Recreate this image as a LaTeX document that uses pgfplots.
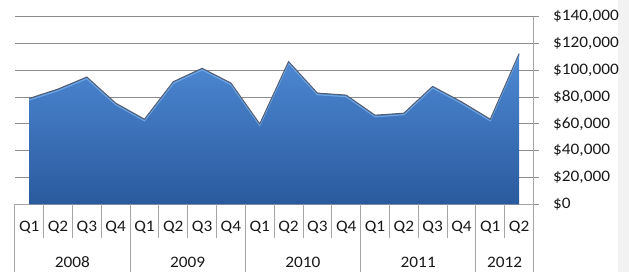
\documentclass[border=0pt]{standalone}
\usepackage{pgfplots}
\usepackage{pgfplotstable}
\pgfplotsset{compat=1.18}
\usepackage{fontspec}
\setmainfont{Carlito}[FakeStretch=1.08]
\definecolor{areatop}{RGB}{78,138,212}
\definecolor{areabot}{RGB}{42,90,158}
\definecolor{areaedge}{RGB}{85,95,115}
\definecolor{areahi}{RGB}{120,175,235}
\definecolor{gridc}{RGB}{140,140,140}
\definecolor{catc}{RGB}{165,165,165}
\definecolor{txt}{RGB}{25,25,25}
\pgfplotstableread{
x y
0 79000
1 86000
2 95000
3 75500
4 63500
5 91500
6 101500
7 90500
8 60000
9 106500
10 83000
11 81500
12 66500
13 68000
14 88000
15 76500
16 63500
17 112500
}\sales
\begin{document}
\begin{tikzpicture}[font=\fontsize{16}{19}\selectfont, text=txt]
\useasboundingbox (0,0) rectangle (629pt,272pt);
\fill[black!5] (618pt,0) rectangle (629pt,272pt);
\begin{axis}[
  at={(14.8pt,67.7pt)}, anchor=south west,
  scale only axis, width=518.7pt, height=187.6pt,
  xmin=-0.5, xmax=17.5, ymin=0, ymax=140000,
  clip=false,
  axis x line*=bottom, axis y line*=right,
  axis line style={draw=catc, line width=0.9pt, -},
  ytick={0,20000,...,140000},
  ymajorgrids, grid style={draw=gridc, line width=1pt},
  ytick align=outside, major tick length=5pt,
  y tick style={draw=gridc, line width=0.9pt},
  scaled y ticks=false,
  yticklabel={\$\pgfmathprintnumber[assume math mode=true,fixed,precision=0,1000 sep={,}]{\tick}},
  yticklabel style={anchor=west, inner sep=0pt, xshift=14.5pt},
  xtick={0,...,17},
  xticklabels={Q1,Q2,Q3,Q4,Q1,Q2,Q3,Q4,Q1,Q2,Q3,Q4,Q1,Q2,Q3,Q4,Q1,Q2},
  xtick align=inside, x tick style={draw=none},
  xticklabel style={anchor=center, yshift=-22.7pt, inner sep=0pt},
]
\addplot[draw=none, top color=areatop, bottom color=areabot]
  table[x=x,y=y] {\sales} \closedcycle;
\addplot[draw=areahi, line width=1.2pt, yshift=-1.6pt, opacity=0.8]
  table[x=x,y=y] {\sales};
\addplot[draw=areaedge, line width=1pt]
  table[x=x,y=y] {\sales};
\pgfplotsinvokeforeach{-0.5,0.5,...,17.5}{
  \draw[catc, line width=0.9pt] (axis cs:#1,0) -- ([yshift=-34pt]axis cs:#1,0);
}
\pgfplotsinvokeforeach{-0.5,3.5,7.5,11.5,15.5,17.5}{
  \draw[catc, line width=0.9pt] (axis cs:#1,0) -- ([yshift=-68pt]axis cs:#1,0);
}
\node[inner sep=0pt] at (axis cs:1.5,0) [yshift=-57.7pt] {2008};
\node[inner sep=0pt] at (axis cs:5.5,0) [yshift=-57.7pt] {2009};
\node[inner sep=0pt] at (axis cs:9.5,0) [yshift=-57.7pt] {2010};
\node[inner sep=0pt] at (axis cs:13.5,0) [yshift=-57.7pt] {2011};
\node[inner sep=0pt] at (axis cs:16.5,0) [yshift=-57.7pt] {2012};
\end{axis}
\end{tikzpicture}
\end{document}
